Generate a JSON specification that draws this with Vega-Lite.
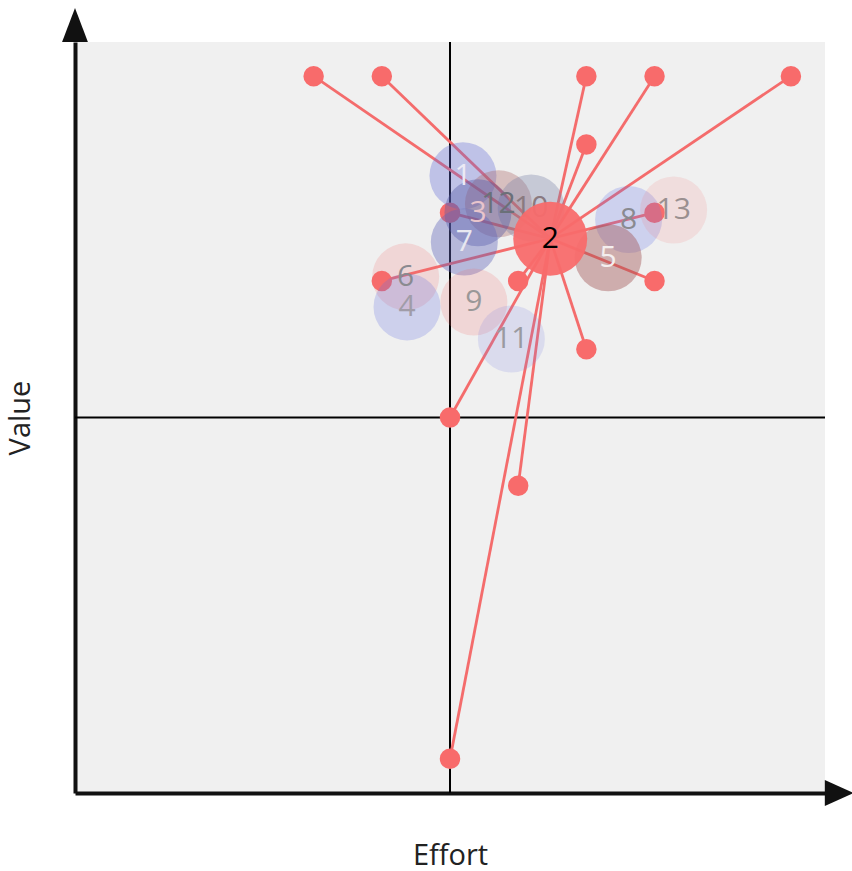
{
  "$schema": "https://vega.github.io/schema/vega-lite/v6.json",
  "width": 750,
  "height": 751,
  "autosize": {"type": "none"},
  "padding": {"left": 75, "top": 42, "right": 27, "bottom": 78},
  "background": "white",
  "config": {"view": {"fill": "#f0f0f0", "stroke": null}, "font": "Open Sans"},
  "datasets": {
    "dots": [
      {"x": -2, "y": 5, "hx": 1.47, "hy": 2.62},
      {"x": -1, "y": 5, "hx": 1.47, "hy": 2.62},
      {"x": 2, "y": 5, "hx": 1.47, "hy": 2.62},
      {"x": 3, "y": 5, "hx": 1.47, "hy": 2.62},
      {"x": 5, "y": 5, "hx": 1.47, "hy": 2.62},
      {"x": 2, "y": 4, "hx": 1.47, "hy": 2.62},
      {"x": 0, "y": 3, "hx": 1.47, "hy": 2.62},
      {"x": 3, "y": 3, "hx": 1.47, "hy": 2.62},
      {"x": -1, "y": 2, "hx": 1.47, "hy": 2.62},
      {"x": 1, "y": 2, "hx": 1.47, "hy": 2.62},
      {"x": 3, "y": 2, "hx": 1.47, "hy": 2.62},
      {"x": 2, "y": 1, "hx": 1.47, "hy": 2.62},
      {"x": 0, "y": 0, "hx": 1.47, "hy": 2.62},
      {"x": 1, "y": -1, "hx": 1.47, "hy": 2.62},
      {"x": 0, "y": -5, "hx": 1.47, "hy": 2.62}
    ],
    "items": [
      {"id": "1", "x": 0.19, "y": 3.54, "main": false},
      {"id": "12", "x": 0.71, "y": 3.13, "main": false},
      {"id": "10", "x": 1.19, "y": 3.07, "main": false},
      {"id": "3", "x": 0.41, "y": 3.0, "main": false},
      {"id": "7", "x": 0.21, "y": 2.57, "main": false},
      {"id": "6", "x": -0.65, "y": 2.06, "main": false},
      {"id": "4", "x": -0.63, "y": 1.62, "main": false},
      {"id": "9", "x": 0.35, "y": 1.69, "main": false},
      {"id": "11", "x": 0.9, "y": 1.15, "main": false},
      {"id": "8", "x": 2.62, "y": 2.9, "main": false},
      {"id": "13", "x": 3.28, "y": 3.04, "main": false},
      {"id": "5", "x": 2.32, "y": 2.34, "main": false},
      {"id": "2", "x": 1.47, "y": 2.62, "main": true}
    ],
    "arrowUp": [{"x": -5.5, "y": 5.75}],
    "arrowRight": [{"x": 5.71, "y": -5.5}]
  },
  "layer": [
    {
      "data": {"values": [{}]},
      "mark": {"type": "rule", "color": "black", "strokeWidth": 2},
      "encoding": {
        "x": {"datum": 0, "type": "quantitative", "scale": {"domain": [-5.5, 5.5], "nice": false, "zero": false},
          "axis": {"title": "Effort", "labels": false, "ticks": false, "grid": false, "domainColor": "#111", "domainWidth": 4, "titleFontSize": 29, "titleFontWeight": "normal", "titleColor": "#222", "titlePadding": 48}},
        "y": {"datum": -5.5, "type": "quantitative"},
        "y2": {"datum": 5.5}
      }
    },
    {
      "data": {"values": [{}]},
      "mark": {"type": "rule", "color": "black", "strokeWidth": 2},
      "encoding": {
        "y": {"datum": 0, "type": "quantitative", "scale": {"domain": [-5.5, 5.5], "nice": false, "zero": false},
          "axis": {"title": "Value", "labels": false, "ticks": false, "grid": false, "domainColor": "#111", "domainWidth": 4, "titleFontSize": 29, "titleFontWeight": "normal", "titleColor": "#222", "titlePadding": 40}},
        "x": {"datum": -5.5, "type": "quantitative"},
        "x2": {"datum": 5.5}
      }
    },
    {
      "data": {"name": "dots"},
      "mark": {"type": "rule", "color": "#f46c6c", "strokeWidth": 2.8},
      "encoding": {
        "x": {"field": "hx", "type": "quantitative"},
        "y": {"field": "hy", "type": "quantitative"},
        "x2": {"field": "x"},
        "y2": {"field": "y"}
      }
    },
    {
      "data": {"name": "dots"},
      "mark": {"type": "point", "filled": true, "fill": "#f86b6b", "opacity": 1, "size": 420},
      "encoding": {
        "x": {"field": "x", "type": "quantitative"},
        "y": {"field": "y", "type": "quantitative"}
      }
    },
    {
      "data": {"name": "items"},
      "transform": [{"filter": "!datum.main"}],
      "mark": {"type": "circle", "size": 4489, "opacity": 1},
      "encoding": {
        "x": {"field": "x", "type": "quantitative"},
        "y": {"field": "y", "type": "quantitative"},
        "fill": {"field": "id", "type": "nominal", "legend": null,
          "scale": {"domain": ["1","2","3","4","5","6","7","8","9","10","11","12","13"],
            "range": ["rgba(100,110,215,0.35)","rgba(248,107,107,1)","rgba(85,90,165,0.4)","rgba(100,110,225,0.25)","rgba(160,80,80,0.42)","rgba(240,112,112,0.2)","rgba(95,100,185,0.4)","rgba(100,115,230,0.25)","rgba(240,112,112,0.2)","rgba(120,130,165,0.35)","rgba(120,130,225,0.18)","rgba(170,100,100,0.35)","rgba(240,112,112,0.15)"]}}
      }
    },
    {
      "data": {"name": "items"},
      "transform": [{"filter": "!datum.main"}],
      "mark": {"type": "text", "fontSize": 30, "baseline": "middle", "align": "center"},
      "encoding": {
        "x": {"field": "x", "type": "quantitative"},
        "y": {"field": "y", "type": "quantitative"},
        "text": {"field": "id"},
        "color": {"field": "id", "type": "nominal", "legend": null,
          "scale": {"domain": ["1","2","3","4","5","6","7","8","9","10","11","12","13"],
            "range": ["#eceaf5","#000000","#e8c4cc","#a09ca8","#f4eeee","#8a8a90","#e8e8f0","#8a8a90","#9a9898","#8a7a80","#9a9aa0","#6a7078","#9a9090"]}}
      }
    },
    {
      "data": {"name": "items"},
      "transform": [{"filter": "datum.main"}],
      "mark": {"type": "circle", "size": 5476, "fill": "#f86b6b", "opacity": 0.95},
      "encoding": {
        "x": {"field": "x", "type": "quantitative"},
        "y": {"field": "y", "type": "quantitative"}
      }
    },
    {
      "data": {"name": "items"},
      "transform": [{"filter": "datum.main"}],
      "mark": {"type": "text", "fontSize": 30, "baseline": "middle", "align": "center", "fill": "black"},
      "encoding": {
        "x": {"field": "x", "type": "quantitative"},
        "y": {"field": "y", "type": "quantitative"},
        "text": {"field": "id"}
      }
    },
    {
      "data": {"name": "arrowUp"},
      "mark": {"type": "point", "filled": true, "fill": "#111", "opacity": 1, "shape": "M-0.76,1L0,-1L0.76,1Z", "size": 1156, "clip": false},
      "encoding": {
        "x": {"field": "x", "type": "quantitative"},
        "y": {"field": "y", "type": "quantitative"}
      }
    },
    {
      "data": {"name": "arrowRight"},
      "mark": {"type": "point", "filled": true, "fill": "#111", "opacity": 1, "shape": "M-1,-0.9L1,0L-1,0.9Z", "size": 841, "clip": false},
      "encoding": {
        "x": {"field": "x", "type": "quantitative"},
        "y": {"field": "y", "type": "quantitative"}
      }
    }
  ],
  "resolve": {"scale": {"color": "independent"}}
}
